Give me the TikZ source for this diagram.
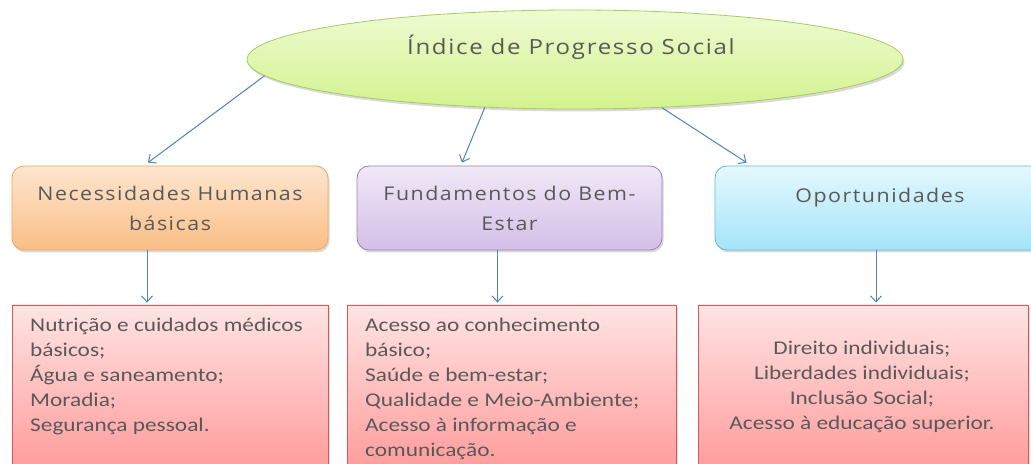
\documentclass[tikz,border=0pt]{standalone}
\usepackage{fontspec}
\setmainfont{Carlito}[FakeStretch=1.2]
\newfontfamily\headfont{Open Sans}[LetterSpace=8,FakeStretch=1.13]
\newfontfamily\titlefont{Open Sans}[LetterSpace=8,FakeStretch=1.15]
\usetikzlibrary{arrows.meta,shadows,shapes.geometric}
\definecolor{arrowblue}{HTML}{4F81BD}
\definecolor{txt}{HTML}{595959}
\definecolor{ellT}{HTML}{EEFBD2}
\definecolor{ellB}{HTML}{D3F28E}
\definecolor{ellD}{HTML}{A9C963}
\definecolor{orT}{HTML}{FDE6D0}
\definecolor{orB}{HTML}{FBBE85}
\definecolor{orD}{HTML}{F5A55E}
\definecolor{puT}{HTML}{F0E8F7}
\definecolor{puB}{HTML}{D4BFE8}
\definecolor{puD}{HTML}{9A80BA}
\definecolor{cyT}{HTML}{E4F8FD}
\definecolor{cyB}{HTML}{A4E4F8}
\definecolor{cyD}{HTML}{63BBD9}
\definecolor{reT}{HTML}{FFE4E4}
\definecolor{reB}{HTML}{FF9C9C}
\definecolor{reD}{HTML}{D05C5C}
\tikzset{
  arr/.style={draw=arrowblue, line width=1bp, -{Straight Barb[length=6bp,width=11bp]}},
  shad/.style={drop shadow={opacity=0.3, shadow xshift=1.5bp, shadow yshift=-2.5bp}},
  headbox/.style={rounded corners=12bp, shad, line width=0.8bp, inner sep=0pt, minimum height=84bp,
    align=center, text=txt, font=\headfont\fontsize{19}{30}\selectfont},
  listbox/.style={shad, line width=0.8bp, inner sep=0pt, minimum height=162bp,
    top color=reT, bottom color=reB, draw=reD},
  listtext/.style={inner sep=0pt, align=left, text=txt, font=\fontsize{19.5}{25}\selectfont},
}
\begin{document}
\begin{tikzpicture}[x=1bp,y=-1bp]
\useasboundingbox (0,0) rectangle (1031,464);
\clip (0,0) rectangle (1031,464);
% top ellipse
\node[ellipse, shad, draw=ellD, line width=0.8bp, top color=ellT, bottom color=ellB,
  minimum width=656bp, minimum height=99bp, inner sep=0pt] (ell) at (575,59.5) {};
\node[text=txt, font=\titlefont\fontsize{21}{26}\selectfont, inner sep=0pt] (title) at (571,47) {Índice de Progresso Social};
% second row
\node[headbox, top color=orT, bottom color=orB, draw=orD, minimum width=316bp] (box1) at (170,208)
  {Necessidades Humanas\\básicas};
\node[headbox, top color=puT, bottom color=puB, draw=puD, minimum width=305bp] (box2) at (509.5,208)
  {Fundamentos do Bem-\\Estar};
\node[headbox, align=none, text height=14bp, text depth=24bp, top color=cyT, bottom color=cyB, draw=cyD, minimum width=330bp] (box3) at (880,208)
  {Oportunidades};
% third row
\node[listbox, minimum width=316bp] (boxA) at (170,386) {};
\node[listbox, minimum width=329bp] (boxB) at (511.5,386) {};
\node[listbox, minimum width=330bp] (boxC) at (863,386) {};
\node[listtext, anchor=north west] (txtA) at (30,318)
  {Nutrição e cuidados médicos\\básicos;\\Água e saneamento;\\Moradia;\\Segurança pessoal.};
\node[listtext, anchor=north west] (txtB) at (365,318)
  {Acesso ao conhecimento\\básico;\\Saúde e bem-estar;\\Qualidade e Meio-Ambiente;\\Acesso à informação e\\comunicação.};
\node[listtext, align=center] (txtC) at (862,387)
  {Direito individuais;\\Liberdades individuais;\\Inclusão Social;\\Acesso à educação superior.};
% connectors
\draw[arr] (ell.183.6) -- ([xshift=-22bp,yshift=3bp]box1.north);
\draw[arr] (ell.208.1) -- ([xshift=-47.5bp,yshift=3bp]box2.north);
\draw[arr] (ell.331.1) -- ([xshift=32bp,yshift=3bp]box3.north west);
\coordinate (s1) at ([xshift=-23bp]box1.south);
\coordinate (s2) at ([xshift=-12bp]box2.south);
\coordinate (s3) at ([xshift=-4bp]box3.south);
\path (s1 |- boxA.north) coordinate (e1);
\path (s2 |- boxB.north) coordinate (e2);
\path (s3 |- boxC.north) coordinate (e3);
\draw[arr] (s1) -- ([yshift=2bp]e1);
\draw[arr] (s2) -- ([yshift=2bp]e2);
\draw[arr] (s3) -- ([yshift=2bp]e3);
\end{tikzpicture}
\end{document}
